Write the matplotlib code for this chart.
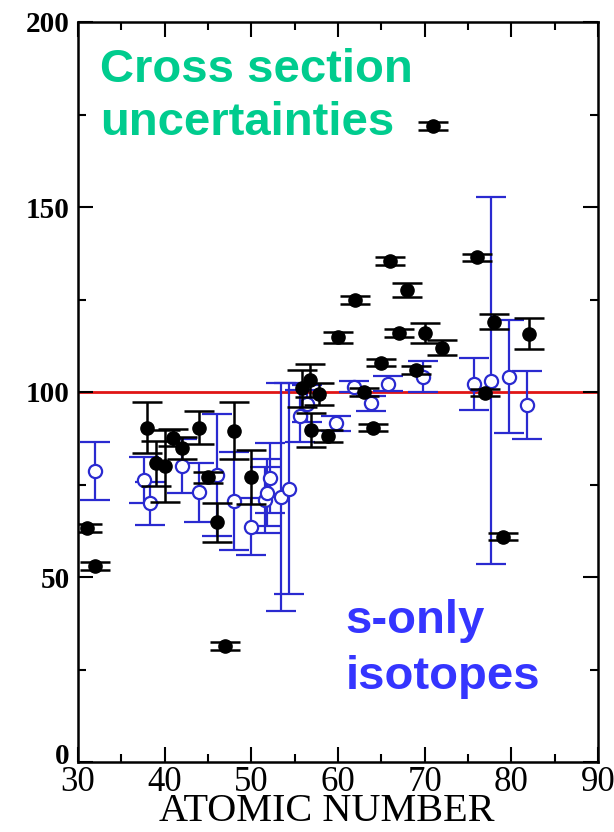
import matplotlib
matplotlib.use("Agg")
import matplotlib.pyplot as plt
from matplotlib.ticker import MultipleLocator
import matplotlib.transforms as mtransforms

# Black filled points (cross section uncertainties)
black_z = [31, 32, 38, 39, 40, 41, 42, 44, 45, 46, 47, 48, 50,
           55.8, 56.8, 57.8, 56.9, 58.9, 60, 62, 63, 64, 65, 66, 67, 68, 69, 70,
           71, 72, 76, 77, 78, 79, 82]
black_y = [63.2, 53, 90.4, 80.7, 80, 87.7, 84.8, 90.4, 77, 64.8, 31.4, 89.5, 77,
           101, 103.2, 99.4, 89.7, 88.1, 114.8, 124.9, 100, 90.4, 107.9, 135.4, 115.9,
           127.6, 105.9, 115.9, 171.9, 112, 136.4, 99.8, 119, 60.9, 115.8]
black_err = [1, 1, 7, 6, 9.7, 2.3, 3, 4.5, 1.5, 5.3, 1, 7.7, 7.4,
             5, 4.5, 3, 4.5, 1.5, 1.5, 1, 1, 1, 1, 1, 1,
             1.9, 1, 2.7, 1, 2.1, 1, 1, 2, 1, 4.3]

# Blue open points (s-only isotopes)
blue_z = [32, 37.6, 38.3, 42, 44, 46, 48, 50, 51.6, 51.8, 52.1, 53.4, 54.3,
          55.6, 56.4, 59.8, 61.8, 63.8, 65.8, 69.8, 75.7, 77.7, 79.7, 81.75]
blue_y = [78.7, 76.2, 69.9, 80, 72.9, 77.6, 70.5, 63.6, 70.8, 72.8, 76.8, 71.7, 73.9,
          93.6, 96.8, 91.5, 101.4, 96.9, 102.2, 104.1, 102.2, 103, 104.1, 96.5]
blue_err = [7.9, 6.3, 5.8, 7.3, 7.9, 16.5, 13.3, 7.7, 9, 9, 9.5, 30.8, 28.6,
            7, 5, 2, 1.5, 2, 2, 4.2, 7.1, 49.6, 15.3, 9.2]

xticks = [30, 40, 50, 60, 70, 80, 90]
yticks = [0, 50, 100, 150, 200]

fig = plt.figure(figsize=(6.14, 8.32), dpi=100)
ax = fig.add_axes([78/614, 1-762/832, (598-78)/614, (762-22)/832])

ax.axhline(100, color='#e01515', lw=2, zorder=1)

ax.errorbar(blue_z, blue_y, yerr=blue_err, fmt='o', mfc='white', mec='#2a2ad0',
            ecolor='#2a2ad0', ms=9.5, mew=1.6, elinewidth=1.6, capsize=11, capthick=1.6,
            zorder=2)
ax.errorbar(black_z, black_y, yerr=black_err, fmt='o', color='black', ms=9.5,
            elinewidth=1.8, capsize=11, capthick=1.8, zorder=3)

ax.set_xlim(30, 90)
ax.set_ylim(0, 200)
ax.set_xticks(xticks)
ax.set_yticks(yticks)
ax.xaxis.set_minor_locator(MultipleLocator(5))
ax.yaxis.set_minor_locator(MultipleLocator(25))
ax.tick_params(which='both', direction='in', top=True, right=True, width=1.5)
ax.tick_params(which='major', length=11)
ax.tick_params(which='minor', length=6)
for s in ax.spines.values():
    s.set_linewidth(1.8)

ax.set_xticklabels([str(v) for v in xticks], fontfamily='Liberation Serif', fontsize=25)
ax.set_yticklabels([str(v) for v in yticks], fontfamily='Liberation Serif', fontsize=21,
                   fontweight='bold')
ax.tick_params(axis='x', pad=3)
ax.tick_params(axis='y', pad=6)
ax.set_xlabel('ATOMIC NUMBER', fontfamily='Liberation Serif', fontsize=29)
ax.xaxis.label.set_va('bottom')
ax.xaxis.set_label_coords(0.478, -0.0925)

# nudge the y "0" label up a little, as in the reference
fig.canvas.draw()
lab0 = ax.get_yticklabels()[0]
lab0.set_transform(lab0.get_transform() + mtransforms.ScaledTranslation(0, 6/72, fig.dpi_scale_trans))

tfont = dict(fontfamily='Liberation Sans', fontweight='bold', fontsize=34)
ax.text(32.5, 183.8, 'Cross section', color='#00cc8e', va='baseline', **tfont)
ax.text(32.5, 169.5, 'uncertainties', color='#00cc8e', va='baseline', **tfont)
ax.text(60.9, 34.9, 's-only', color='#3535ff', va='baseline', **tfont)
ax.text(60.9, 19.7, 'isotopes', color='#3535ff', va='baseline', **tfont)

fig.savefig('out.png', dpi=100)
